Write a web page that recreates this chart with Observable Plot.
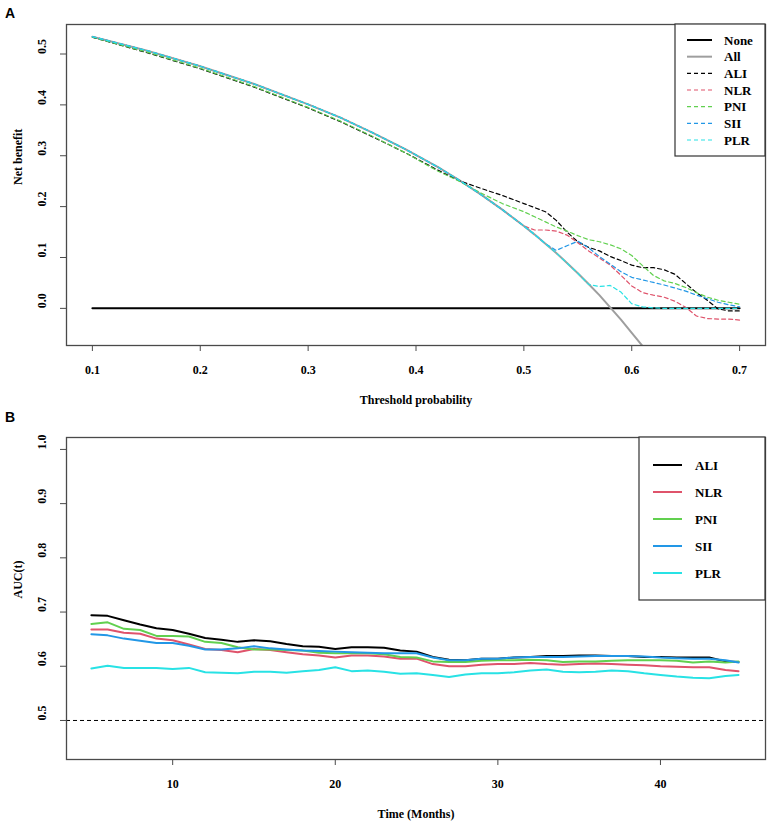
<!DOCTYPE html>
<html><head><meta charset="utf-8">
<script src="https://cdn.jsdelivr.net/npm/d3@7"></script>
<script src="https://cdn.jsdelivr.net/npm/@observablehq/plot@0.6"></script>
<style>
body{margin:0;background:#fff;}
#page{position:relative;width:767px;height:825px;overflow:hidden;}
#page > svg{position:absolute;left:0;}
</style></head><body><div id="page"></div>
<script>
// ---------- Panel A: decision curves ----------
const thresholds = [0.10,0.15,0.20,0.25,0.30,0.33,0.36,0.39,0.42,0.44,0.46,0.48,0.50,0.51,0.52,0.53,0.54,0.55,0.56,0.57,0.58,0.59,0.60,0.61,0.62,0.63,0.64,0.65,0.66,0.67,0.68,0.69,0.70];
const noneX = [0.10, 0.70];
const noneNB = [0, 0];
const allNB = [0.534,0.507,0.476,0.441,0.401,0.375,0.345,0.313,0.278,0.252,0.224,0.194,0.162,0.145,0.127,0.109,0.089,0.069,0.048,0.026,0.002,-0.022,-0.048,-0.074,-0.103];
const aliNB = [0.533,0.503,0.471,0.435,0.394,0.367,0.337,0.306,0.272,0.251,0.236,0.222,0.206,0.198,0.190,0.173,0.150,0.131,0.120,0.113,0.102,0.094,0.085,0.080,0.080,0.076,0.067,0.049,0.031,0.016,-0.001,-0.005,-0.005];
const nlrNB = [0.534,0.507,0.476,0.441,0.401,0.375,0.345,0.313,0.278,0.252,0.224,0.194,0.162,0.154,0.154,0.152,0.144,0.129,0.113,0.099,0.085,0.065,0.044,0.031,0.026,0.022,0.014,0.002,-0.015,-0.020,-0.021,-0.021,-0.023];
const pniNB = [0.533,0.504,0.472,0.436,0.395,0.368,0.338,0.306,0.270,0.250,0.227,0.206,0.190,0.180,0.170,0.160,0.152,0.143,0.135,0.131,0.125,0.117,0.104,0.084,0.065,0.054,0.049,0.041,0.031,0.022,0.016,0.012,0.008];
const siiNB = [0.534,0.507,0.476,0.441,0.401,0.375,0.345,0.313,0.278,0.252,0.224,0.194,0.162,0.145,0.127,0.114,0.123,0.132,0.119,0.102,0.087,0.072,0.061,0.056,0.051,0.046,0.040,0.034,0.026,0.019,0.012,0.007,0.003];
const plrNB = [0.534,0.507,0.476,0.441,0.401,0.375,0.345,0.313,0.278,0.252,0.224,0.194,0.162,0.145,0.127,0.109,0.089,0.069,0.047,0.043,0.045,0.032,0.009,0.003,0.001,0,0,0,0,0,0,0,0];
const xTicksA = [0.1,0.2,0.3,0.4,0.5,0.6,0.7];
const yTicksA = [0.0,0.1,0.2,0.3,0.4,0.5];

// ---------- Panel B: time-dependent AUC ----------
const months = [5,6,7,8,9,10,11,12,13,14,15,16,17,18,19,20,21,22,23,24,25,26,27,28,29,30,31,32,33,34,35,36,37,38,39,40,41,42,43,44,44.8];
const aliAUC = [0.694,0.693,0.685,0.677,0.670,0.667,0.660,0.652,0.649,0.645,0.648,0.646,0.641,0.637,0.636,0.632,0.635,0.635,0.634,0.629,0.627,0.617,0.612,0.611,0.614,0.614,0.616,0.617,0.619,0.619,0.620,0.620,0.619,0.619,0.617,0.617,0.616,0.616,0.616,0.609,0.608];
const nlrAUC = [0.668,0.668,0.662,0.660,0.651,0.648,0.640,0.632,0.630,0.626,0.632,0.630,0.626,0.622,0.620,0.616,0.620,0.620,0.618,0.614,0.614,0.604,0.600,0.600,0.603,0.604,0.604,0.606,0.604,0.603,0.604,0.605,0.604,0.603,0.602,0.600,0.599,0.598,0.598,0.593,0.591];
const pniAUC = [0.678,0.681,0.669,0.667,0.656,0.656,0.655,0.645,0.643,0.635,0.631,0.631,0.630,0.629,0.625,0.624,0.624,0.624,0.622,0.617,0.616,0.609,0.608,0.608,0.610,0.611,0.611,0.612,0.611,0.608,0.609,0.609,0.610,0.611,0.611,0.611,0.610,0.607,0.609,0.607,0.609];
const siiAUC = [0.659,0.657,0.651,0.647,0.643,0.643,0.638,0.631,0.631,0.633,0.637,0.633,0.631,0.629,0.628,0.627,0.626,0.625,0.624,0.624,0.624,0.616,0.611,0.611,0.614,0.614,0.616,0.617,0.617,0.617,0.618,0.619,0.619,0.619,0.618,0.616,0.615,0.614,0.614,0.611,0.607];
const plrAUC = [0.596,0.601,0.597,0.597,0.597,0.595,0.597,0.589,0.588,0.587,0.590,0.590,0.588,0.591,0.593,0.598,0.591,0.592,0.590,0.586,0.587,0.584,0.580,0.585,0.587,0.587,0.589,0.592,0.594,0.590,0.589,0.590,0.592,0.591,0.587,0.584,0.581,0.579,0.578,0.582,0.584];
const xTicksB = [10,20,30,40];
const yTicksB = [0.5,0.6,0.7,0.8,0.9,1.0];
const refAUC = [0.5];

const models = ["ALI","NLR","PNI","SII","PLR"];
const modelColors = ["#000000","#DF536B","#61D04F","#2297E6","#28E2E5"];
const legendA = ["None","All", ...models];

// ---------- build ----------
const serif = "'Liberation Serif','Times New Roman',serif";
const fmt1 = d3.format(".1f");
const frameColor = "#4a4a4a";

const nbSeries = [aliNB, nlrNB, pniNB, siiNB, plrNB];
const rowsA = models.flatMap((s, i) => nbSeries[i].map((v, j) => ({series: s, x: thresholds[j], y: v})));
const allRows = allNB.map((v, j) => ({x: thresholds[j], y: v}));
const noneRows = noneNB.map((v, j) => ({x: noneX[j], y: v}));

const aucSeries = [aliAUC, nlrAUC, pniAUC, siiAUC, plrAUC];
const rowsB = models.flatMap((s, i) => aucSeries[i].map((v, j) => ({series: s, x: months[j], y: v})));

const baseStyle = {fontFamily: serif, fontSize: "12px", fontWeight: "bold", background: "transparent", color: "#000"};

const plotA = Plot.plot({
  width: 767, height: 410,
  marginLeft: 66, marginRight: 2, marginTop: 24, marginBottom: 65,
  style: baseStyle,
  x: {domain: [0.076, 0.724]},
  y: {domain: [-0.073, 0.558]},
  color: {domain: models, range: modelColors},
  marks: [
    Plot.axisX(xTicksA, {tickSize: 6, tickPadding: 14, tickFormat: fmt1, label: null, stroke: frameColor}),
    Plot.axisY(yTicksA, {tickSize: 6, tickFormat: () => "", label: null, stroke: frameColor}),
    Plot.text(yTicksA, {y: d => d, text: d => fmt1(d), frameAnchor: "left", dx: -24, rotate: -90}),
    Plot.text(["Threshold probability"], {text: d => d, frameAnchor: "bottom", dy: 58}),
    Plot.text(["Net benefit"], {text: d => d, frameAnchor: "left", dx: -48, rotate: -90}),
    Plot.line(noneRows, {x: "x", y: "y", stroke: "#000", strokeWidth: 2}),
    Plot.line(allRows, {x: "x", y: "y", stroke: "#9e9e9e", strokeWidth: 2, clip: true}),
    Plot.line(rowsA, {x: "x", y: "y", z: "series", stroke: "series", strokeWidth: 1.2, strokeDasharray: "4,3", clip: true}),
    Plot.frame({stroke: frameColor, strokeWidth: 1.3})
  ]
});
plotA.style.top = "0px";

const plotB = Plot.plot({
  width: 767, height: 415,
  marginLeft: 66, marginRight: 2, marginTop: 27, marginBottom: 66,
  style: baseStyle,
  x: {domain: [3.47, 46.46]},
  y: {domain: [0.428, 1.022]},
  color: {domain: models, range: modelColors},
  marks: [
    Plot.axisX(xTicksB, {tickSize: 6, tickPadding: 14, label: null, stroke: frameColor}),
    Plot.axisY(yTicksB, {tickSize: 6, tickFormat: () => "", label: null, stroke: frameColor}),
    Plot.text(yTicksB, {y: d => d, text: d => fmt1(d), frameAnchor: "left", dx: -24, rotate: -90}),
    Plot.text(["Time (Months)"], {text: d => d, frameAnchor: "bottom", dy: 58}),
    Plot.text(["AUC(t)"], {text: d => d, frameAnchor: "left", dx: -48, rotate: -90}),
    Plot.ruleY(refAUC, {stroke: "#000", strokeWidth: 1, strokeDasharray: "4,3"}),
    Plot.line(rowsB, {x: "x", y: "y", z: "series", stroke: "series", strokeWidth: 2}),
    Plot.frame({stroke: frameColor, strokeWidth: 1.3})
  ]
});
plotB.style.top = "410px";

const page = document.getElementById("page");
page.appendChild(plotA);
page.appendChild(plotB);

// ---------- overlay: panel letters and legends ----------
const ov = d3.select(page).append("svg")
  .attr("width", 767).attr("height", 825)
  .style("top", "0px").style("pointer-events", "none");

ov.selectAll("text.panel").data(["A", "B"]).join("text")
  .attr("class", "panel")
  .attr("x", 5).attr("y", (d, i) => i === 0 ? 18 : 422)
  .attr("font-family", "'Liberation Sans',Arial,sans-serif")
  .attr("font-weight", "bold").attr("font-size", 14)
  .text(d => d);

// Legend A
const lgA = ov.append("g");
lgA.append("rect").attr("x", 675).attr("y", 24).attr("width", 90).attr("height", 132)
  .attr("fill", "#fff").attr("stroke", "#333").attr("stroke-width", 1.2);
const colA = ["#000", "#9e9e9e", ...modelColors];
const rowA = lgA.selectAll("g.row").data(legendA).join("g").attr("class", "row")
  .attr("transform", (d, i) => `translate(0,${40 + i * 16.67})`);
rowA.append("line").attr("x1", 687).attr("x2", 712)
  .attr("stroke", (d, i) => colA[i])
  .attr("stroke-width", (d, i) => i < 2 ? 2 : 1.2)
  .attr("stroke-dasharray", (d, i) => i < 2 ? null : "4,3");
rowA.append("text").attr("x", 724).attr("dy", "0.35em")
  .attr("font-family", serif).attr("font-weight", "bold").attr("font-size", 13)
  .text(d => d);

// Legend B
const lgB = ov.append("g");
lgB.append("rect").attr("x", 639).attr("y", 437).attr("width", 126).attr("height", 163)
  .attr("fill", "#fff").attr("stroke", "#333").attr("stroke-width", 1.2);
const rowB = lgB.selectAll("g.row").data(models).join("g").attr("class", "row")
  .attr("transform", (d, i) => `translate(0,${465 + i * 27})`);
rowB.append("line").attr("x1", 653).attr("x2", 682)
  .attr("stroke", (d, i) => modelColors[i]).attr("stroke-width", 2);
rowB.append("text").attr("x", 695).attr("dy", "0.35em")
  .attr("font-family", serif).attr("font-weight", "bold").attr("font-size", 13)
  .text(d => d);
</script>
</body></html>
